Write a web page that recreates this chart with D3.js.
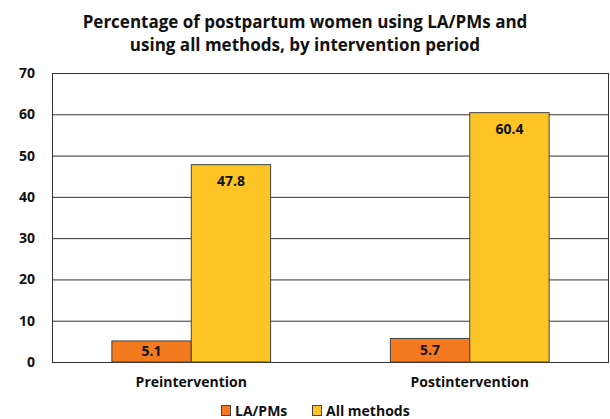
<!DOCTYPE html>
<html>
<head>
<meta charset="utf-8">
<script src="https://cdn.jsdelivr.net/npm/d3@7"></script>
<style>
  body { margin: 0; background: #fff; }
  svg { font-family: "Open Sans", sans-serif; }
</style>
</head>
<body>
<div id="chart"></div>
<script>
// data
var periods = ["Preintervention", "Postintervention"];
var seriesNames = ["LA/PMs", "All methods"];
var laPms = [5.1, 5.7];
var allMethods = [47.8, 60.4];
var yTicks = [0, 10, 20, 30, 40, 50, 60, 70];
var titleLines = ["Percentage of postpartum women using LA/PMs and",
                  "using all methods, by intervention period"];

var colors = ["#F47A20", "#FDC425"];

var W = 610, H = 419;
var margin = { top: 73, right: 1, bottom: 57, left: 52 },
    width = W - margin.left - margin.right,
    height = H - margin.top - margin.bottom;

var svg = d3.select("#chart").append("svg")
    .attr("width", W).attr("height", H);

// title
svg.append("g").selectAll("text")
    .data(titleLines)
    .enter().append("text")
    .attr("x", 305)
    .attr("y", function (d, i) { return 28 + i * 23; })
    .attr("text-anchor", "middle")
    .style("font-size", "17px")
    .style("font-weight", "bold")
    .attr("fill", "#111")
    .text(function (d) { return d; });

var g = svg.append("g")
    .attr("transform", "translate(" + margin.left + "," + margin.top + ")");

var x0 = d3.scaleBand().domain(periods).range([0, width]).paddingInner(0).paddingOuter(0);
var x1 = d3.scaleBand().domain(seriesNames).range([0, x0.bandwidth() * 0.57]);
var y = d3.scaleLinear().domain([0, 70]).range([height, 0]);

// gridlines
g.append("g")
    .attr("class", "grid")
    .call(d3.axisLeft(y).tickValues(yTicks).tickSize(-width).tickFormat(""))
    .call(function (s) {
        s.select(".domain").remove();
        s.selectAll("line").attr("stroke", "#333").attr("stroke-width", 1);
    });

// right border
g.append("line")
    .attr("x1", width - 0.5).attr("x2", width - 0.5)
    .attr("y1", 0).attr("y2", height)
    .attr("stroke", "#333");

// y axis labels
g.append("g")
    .call(d3.axisLeft(y).tickValues(yTicks).tickSize(0).tickPadding(17))
    .call(function (s) {
        s.select(".domain").attr("stroke", "#333");
        s.selectAll("text")
            .style("font-size", "14px")
            .style("font-weight", "bold")
            .attr("fill", "#111")
            .attr("font-family", "'Open Sans', sans-serif");
    });

var rows = periods.map(function (p, i) {
    return { period: p, values: [laPms[i], allMethods[i]] };
});

var groups = g.selectAll(".grp")
    .data(rows)
    .enter().append("g")
    .attr("class", "grp")
    .attr("transform", function (d) {
        return "translate(" + (x0(d.period) + (x0.bandwidth() - x1.range()[1]) / 2) + ",0)";
    });

var bars = groups.selectAll("g.bar")
    .data(function (d) {
        return d.values.map(function (v, j) { return { name: seriesNames[j], value: v, j: j }; });
    })
    .enter().append("g").attr("class", "bar");

bars.append("rect")
    .attr("x", function (d) { return x1(d.name); })
    .attr("y", function (d) { return y(d.value); })
    .attr("width", x1.bandwidth())
    .attr("height", function (d) { return height - y(d.value); })
    .attr("fill", function (d) { return colors[d.j]; })
    .attr("stroke", "#444")
    .attr("stroke-width", 1);

// labels near the top of the bar, centred when the bar is short
bars.append("text")
    .attr("x", function (d) { return x1(d.name) + x1.bandwidth() / 2; })
    .attr("y", function (d) {
        return Math.min(y(d.value) + 21, (y(d.value) + height) / 2 + 5);
    })
    .attr("text-anchor", "middle")
    .style("font-size", "14px")
    .style("font-weight", "bold")
    .attr("fill", "#111")
    .text(function (d) { return d.value.toFixed(1); });

// x labels
g.append("g").selectAll("text")
    .data(periods)
    .enter().append("text")
    .attr("x", function (d) { return x0(d) + x0.bandwidth() / 2; })
    .attr("y", height + 25)
    .attr("text-anchor", "middle")
    .style("font-size", "14px")
    .style("font-weight", "bold")
    .attr("fill", "#111")
    .text(function (d) { return d; });

// legend
var legend = svg.append("g").attr("transform", "translate(221,405)");
var lx = [0, 91];
seriesNames.forEach(function (name, i) {
    var item = legend.append("g").attr("transform", "translate(" + lx[i] + ",0)");
    item.append("rect")
        .attr("x", 0.5).attr("y", 0.5)
        .attr("width", 9).attr("height", 10)
        .attr("fill", colors[i])
        .attr("stroke", "#444");
    item.append("text")
        .attr("x", 14).attr("y", 11)
        .style("font-size", "14px")
        .style("font-weight", "bold")
        .attr("fill", "#111")
        .text(name);
});
</script>
</body>
</html>
